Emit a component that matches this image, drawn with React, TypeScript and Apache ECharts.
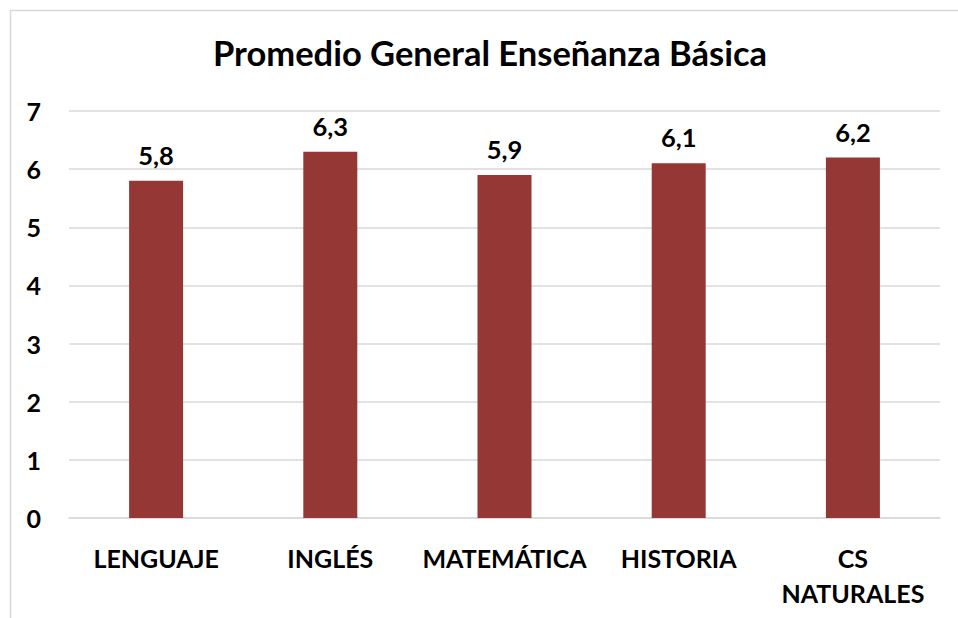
import React, { useEffect, useRef } from "react";
import * as echarts from "echarts";

const categories = ["LENGUAJE", "INGLÉS", "MATEMÁTICA", "HISTORIA", "CS\nNATURALES"];
const values = [5.8, 6.3, 5.9, 6.1, 6.2];
const titleText = "Promedio General Enseñanza Básica";

const FONT = "Lato, 'Open Sans', sans-serif";

export default function App() {
  const ref = useRef<HTMLDivElement>(null);
  useEffect(() => {
    if (!ref.current) return;
    const chart = echarts.init(ref.current, null, { renderer: "svg" });
    chart.setOption({
      animation: false,
      backgroundColor: "#ffffff",
      title: {
        text: titleText,
        left: 485,
        top: 30,
        textAlign: "center",
        textStyle: { fontFamily: FONT, fontWeight: "bold", fontSize: 34.5, color: "#000000" },
      },
      graphic: [
        {
          type: "rect",
          shape: { x: 10.5, y: 10.5, width: 1000, height: 700 },
          style: { fill: "none", stroke: "#d9d9d9", lineWidth: 1.5 },
          silent: true,
        },
      ],
      grid: { left: 69, right: 18, top: 111, bottom: 100, containLabel: false },
      xAxis: {
        type: "category",
        data: categories,
        axisLine: { show: true, lineStyle: { color: "#d9d9d9", width: 1.5 } },
        axisTick: { show: false },
        axisLabel: {
          fontFamily: FONT,
          fontWeight: "bold",
          fontSize: 25,
          color: "#000000",
          margin: 22,
          lineHeight: 35,
          interval: 0,
        },
      },
      yAxis: {
        type: "value",
        min: 0,
        max: 7,
        interval: 1,
        axisLine: { show: false },
        axisTick: { show: false },
        splitLine: { lineStyle: { color: "#d9d9d9", width: 1.5 } },
        axisLabel: {
          fontFamily: FONT,
          fontWeight: "bold",
          fontSize: 25,
          color: "#000000",
          margin: 28,
        },
      },
      series: [
        {
          type: "bar",
          data: values,
          barWidth: 54,
          itemStyle: { color: "#953735" },
          label: {
            show: true,
            position: "top",
            distance: 13,
            fontFamily: FONT,
            fontWeight: "bold",
            fontSize: 25.5,
            color: "#000000",
            formatter: (p: any) => String(p.value).replace(".", ","),
          },
        },
      ],
    });
    return () => chart.dispose();
  }, []);
  return (
    <div
      ref={ref}
      style={{ position: "fixed", left: 0, top: 0, width: 958, height: 618 }}
    />
  );
}
